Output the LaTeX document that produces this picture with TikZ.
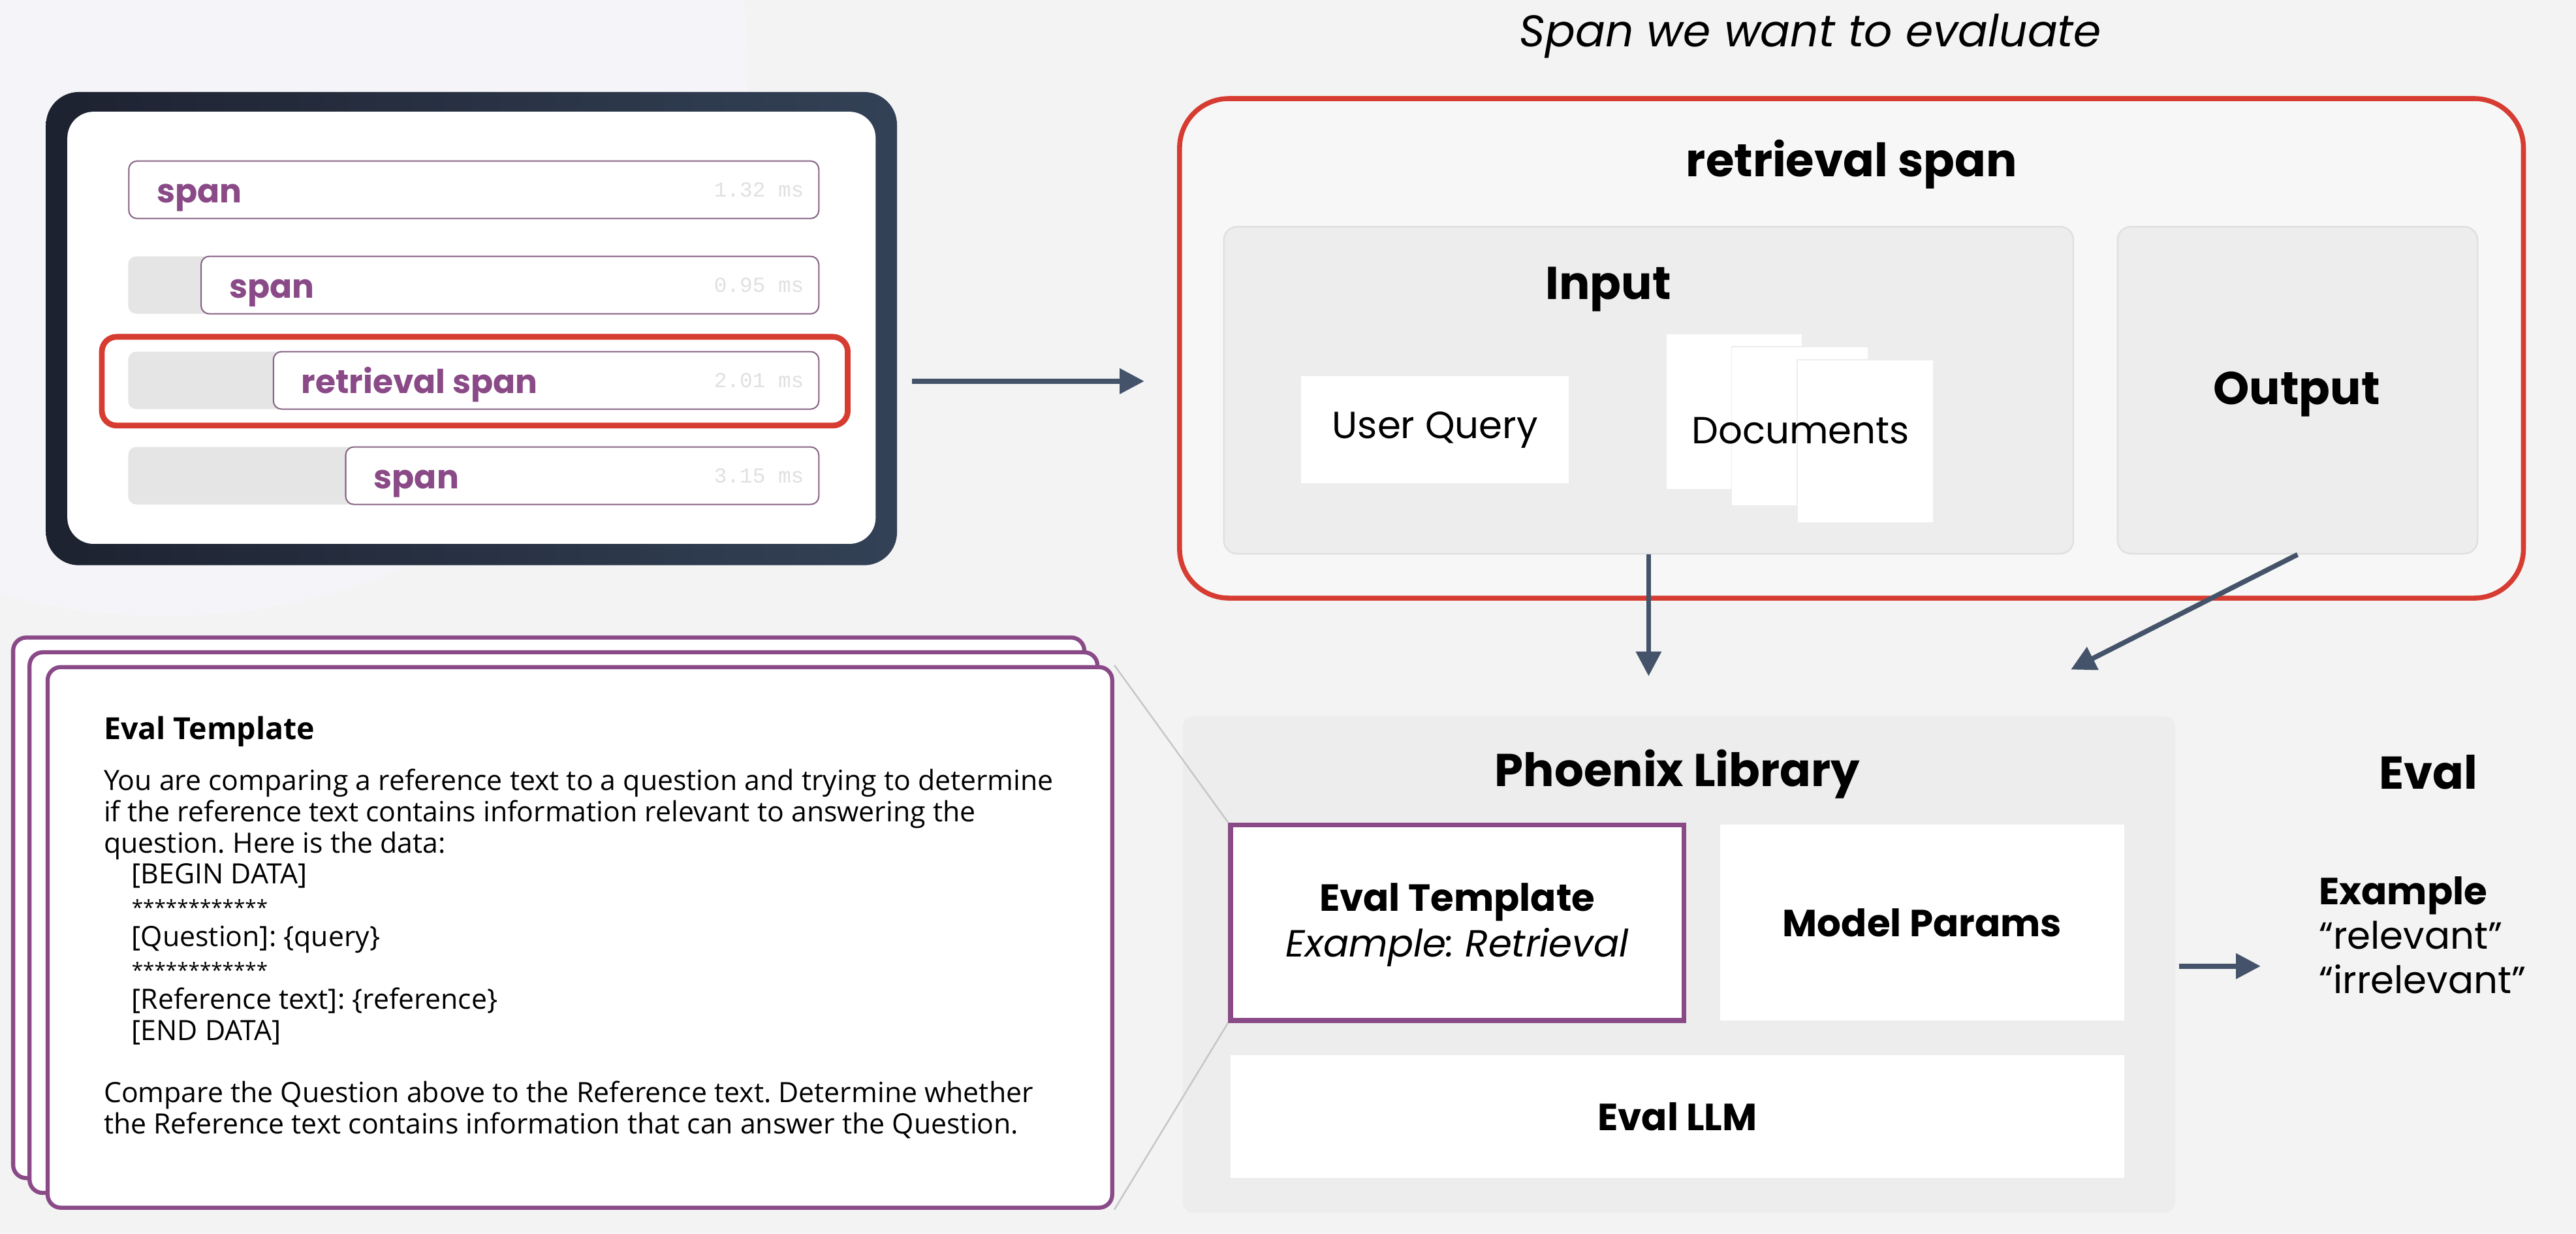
\documentclass[tikz,border=0pt]{standalone}
\usepackage{fontspec}
\setmainfont{Poppins}
\newfontfamily\bodyfont{Open Sans}
\newfontfamily\timefont{Liberation Mono}
\usetikzlibrary{arrows.meta,positioning}
\definecolor{phxpurple}{HTML}{8A4A87}
\definecolor{phxred}{HTML}{D63C31}
\definecolor{phxslate}{HTML}{44536A}
\definecolor{phxpanel}{HTML}{EDEDED}
\definecolor{phxbg}{HTML}{F3F3F3}
\definecolor{phxglow}{HTML}{F5F4F8}
\definecolor{tracedark}{HTML}{1D2230}
\definecolor{tracelight}{HTML}{334156}
\frenchspacing
\tikzset{
  % grey panels holding boxes
  panel/.style={
    shape=rectangle,rounded corners=8pt,
    fill=phxpanel,draw=black!12,line width=1pt},
  % white content boxes
  whitebox/.style={
    shape=rectangle,fill=white,
    font=\fontsize{23}{27}\selectfont\bfseries},
  % headings
  heading/.style={font=\fontsize{28}{32}\selectfont\bfseries},
  % spans in the trace view
  bartrack/.style={rectangle,rounded corners=5pt,fill=black!10,
    minimum width=420pt,minimum height=35pt},
  barspan/.style={rectangle,rounded corners=5pt,fill=white,
    draw=phxpurple!55!gray,line width=0.8pt,minimum height=35pt},
  spanlabel/.style={font=\fontsize{20}{24}\selectfont\bfseries,
    text=phxpurple},
  spantime/.style={font=\timefont\fontsize{13}{15}\selectfont,
    text=black!12},
  % eval template cards
  card/.style={rectangle,rounded corners=8pt,fill=white,
    draw=phxpurple,line width=2.5pt},
  tline/.style={font=\bodyfont\fontsize{17}{19}\selectfont,
    anchor=base west,inner sep=0pt},
  % connectors
  flow/.style={-{Triangle[length=15pt,width=15pt]},
    draw=phxslate,line width=3pt},
  zoomline/.style={draw=black!22,line width=1pt}
}

\begin{document}
\begin{tikzpicture}[x=1pt,y=-1pt]
	\useasboundingbox (0,0) rectangle (1568,751);
	\fill[phxbg] (0,0) rectangle (1568,751);
	\fill[phxglow] (100,40) ellipse [x radius=355pt,y radius=335pt];
	% Trace view
	\node[rectangle,rounded corners=20pt,left color=tracedark,
		right color=tracelight,minimum width=518pt,
		minimum height=288pt] (trace) at (287,200) {};
	\node[rectangle,rounded corners=16pt,fill=white,
		minimum width=492pt,minimum height=263pt] (traceinner) at (287,199.5) {};
	\foreach \i/\y/\xs/\lbl/\t in {1/115.5/78/span/1.32,2/173.5/122/span/0.95,
			3/231.5/166/retrieval span/2.01,4/289.5/210/span/3.15}{
		\node[bartrack] (track\i) at (288,\y) {};
		\node[barspan,minimum width={498-\xs},anchor=west] (bar\i) at (\xs,\y) {};
		\node[spanlabel,anchor=base west] (lbl\i) at ([xshift=14pt,yshift=-8pt]bar\i.west) {\lbl};
		\node[spantime,anchor=east] (time\i) at ([xshift=-6pt]bar\i.east) {\t\ ms};
	}
	\node[rectangle,rounded corners=9pt,draw=phxred,line width=3.5pt,
		minimum width=454pt,minimum height=54pt] (hl) at (289,232) {};
	% Span we want to evaluate
	\node[font=\fontsize{27}{31}\selectfont\itshape] (spantitle) at (1102,22)
		{Span we want to evaluate};
	\node[rectangle,rounded corners=30pt,draw=phxred,line width=3pt,
		fill=black!3,minimum width=818pt,minimum height=304pt] (spanbox) at (1127,212) {};
	\node[heading] (spanname) at (1127,100) {retrieval span};
	\node[panel,minimum width=517pt,minimum height=199pt] (input) at (1003.5,237.5) {};
	\node[heading] (inputlbl) at (979,176) {Input};
	\node[whitebox,font=\fontsize{23}{27}\selectfont,
		minimum width=163pt,minimum height=65pt] (query) at (873.5,261.5) {User Query};
	\foreach \i/\x/\y/\h in {1/1055.5/250.5/95,2/1095.5/259.5/97,3/1135.5/268.5/99}{
		\node[whitebox,draw=black!7,line width=0.6pt,minimum width=83pt,
			minimum height=\h] (doc\i) at (\x,\y) {};
	}
	\node[font=\fontsize{23}{27}\selectfont] (docs) at (1096,262) {Documents};
	\node[panel,minimum width=219pt,minimum height=199pt] (output) at (1398.5,237.5) {};
	\node[heading] (outputlbl) at (1398,240) {Output};
	% Trace to span
	\draw[flow] ([xshift=9pt]hl.east -| trace.east) -- ([xshift=-20pt]hl.east -| spanbox.west);
	% Phoenix library
	\node[panel,rounded corners=6pt,draw=none,minimum width=604pt,
		minimum height=302pt] (phoenix) at (1022,587) {};
	\node[heading] (phxlbl) at (1021,471) {Phoenix Library};
	\node[whitebox,draw=phxpurple,line width=3pt,align=center,
		minimum width=276pt,minimum height=119pt] (evaltpl) at (887,561.5) {};
	\node[font=\fontsize{23}{27}\selectfont\bfseries,align=center] (evaltpltxt) at (887,563)
		{Eval Template\\[1pt]{\mdseries\itshape Example: Retrieval}};
	\node[whitebox,minimum width=246pt,minimum height=119pt] (params) at (1170,561.5) {Model Params};
	\node[whitebox,minimum width=544pt,minimum height=75pt] (llm) at (1021,679.5) {Eval LLM};
	% Span to library
	\draw[flow] (input.south) -- ([yshift=24pt]input.south |- phoenix.north);
	\draw[flow] (output.south) -- ([shift={(-64pt,28pt)}]phoenix.north east);
	% Eval result
	\node[heading] (evallbl) at (1478,470) {Eval};
	\node[font=\fontsize{23}{27}\selectfont,align=left,anchor=west] (evalres) at (1408,569)
		{\textbf{Example}\\“relevant”\\“irrelevant”};
	\draw[flow] ([xshift=2pt,yshift=-19pt]phoenix.east |- evalres.west)
		-- ([xshift=-32pt,yshift=-19pt]evalres.west);
	% Eval template cards
	\node[card,minimum width=652pt,minimum height=329pt] (card1) at (334,552.5) {};
	\node[card,minimum width=650pt,minimum height=329pt] (card2) at (343,561.5) {};
	\node[card,minimum width=648pt,minimum height=329pt] (card3) at (353,570.5) {};
	\draw[zoomline] (card3.north east) -- (evaltpl.north west);
	\draw[zoomline] (card3.south east) -- (evaltpl.south west);
	\node[tline,font=\bodyfont\bfseries\fontsize{18.5}{22}\selectfont] (tpltitle) at (63,450) {Eval Template};
	\foreach \i/\x/\y/\txt in {
			1/63/481/You are comparing a reference text to a question and trying to determine,
			2/63/500/if the reference text contains information relevant to answering the,
			3/63/519/question. Here is the data:,
			4/80/538/[BEGIN DATA],
			6/80/576/[Question]: \{query\},
			8/80/614/[Reference text]: \{reference\},
			9/80/633/[END DATA],
			10/63/671/Compare the Question above to the Reference text. Determine whether,
			11/63/690/the Reference text contains information that can answer the Question.}{
		\node[tline] (tline\i) at (\x,\y) {\txt};
	}
	\foreach \i/\y in {5/557,7/595}{
		\node[tline,font=\bodyfont\fontsize{12.5}{14}\selectfont] (tline\i) at (80,\y) {************};
	}
\end{tikzpicture}
\end{document}
